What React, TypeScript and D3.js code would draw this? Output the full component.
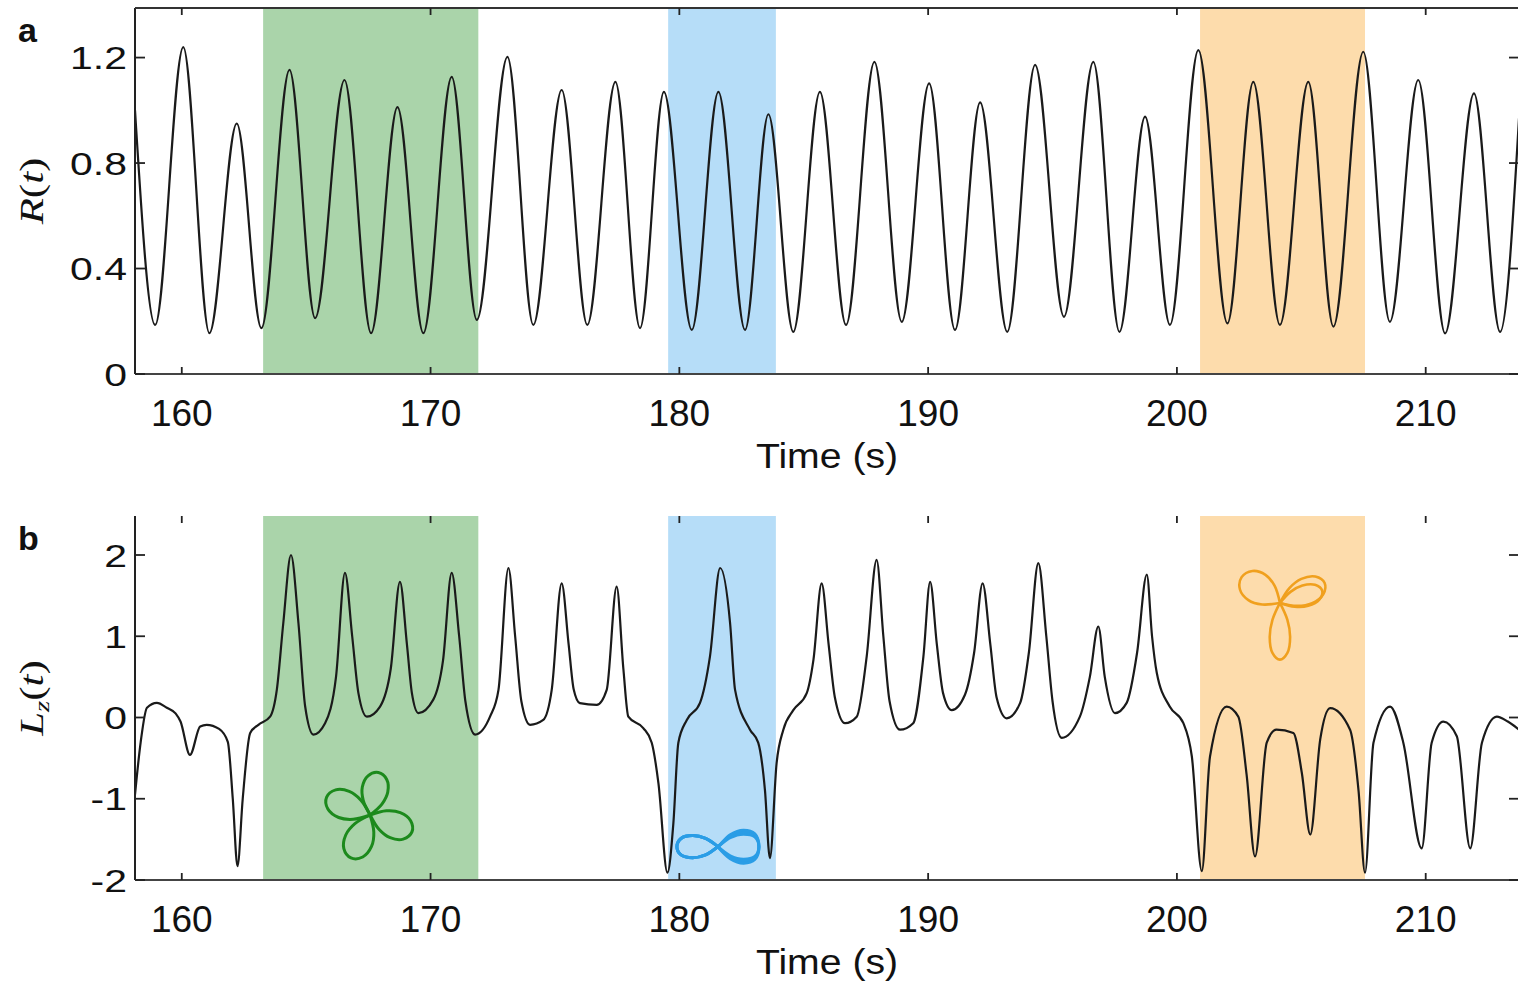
import React from 'react';
import * as d3 from 'd3';

// ---------- data ----------
const xTicks = [160, 170, 180, 190, 200, 210];
const rTicks = [0, 0.4, 0.8, 1.2];
const rTickLabels = ['0', '0.4', '0.8', '1.2'];
const lzTicks = [-2, -1, 0, 1, 2];
const lzTickLabels = ['-2', '-1', '0', '1', '2'];

const regionStart = [163.27, 179.55, 200.93];
const regionEnd = [171.92, 183.88, 207.56];

const rTime = [158.12, 158.93, 160.06, 161.11, 162.21, 163.2, 164.33, 165.36, 166.54, 167.61, 168.67, 169.71, 170.85, 171.86, 173.09, 174.13, 175.27, 176.3, 177.43, 178.42, 179.38, 180.5, 181.57, 182.64, 183.58, 184.58, 185.65, 186.7, 187.84, 188.94, 190.04, 191.08, 192.09, 193.18, 194.3, 195.46, 196.64, 197.69, 198.72, 199.72, 200.86, 202.03, 203.07, 204.14, 205.28, 206.29, 207.49, 208.56, 209.7, 210.78, 211.94, 212.99, 213.75];
const rValue = [1.0, 0.186, 1.24, 0.155, 0.95, 0.174, 1.153, 0.212, 1.115, 0.155, 1.012, 0.155, 1.127, 0.205, 1.203, 0.186, 1.077, 0.186, 1.108, 0.174, 1.07, 0.167, 1.07, 0.167, 0.985, 0.16, 1.07, 0.186, 1.184, 0.198, 1.102, 0.167, 1.03, 0.16, 1.172, 0.217, 1.184, 0.16, 0.976, 0.186, 1.228, 0.192, 1.108, 0.186, 1.108, 0.18, 1.222, 0.198, 1.115, 0.154, 1.064, 0.16, 0.97];

const lzTime = [158.12, 158.35, 158.6, 159.0, 159.4, 159.75, 159.95, 160.33, 160.74, 161.0, 161.5, 161.85, 162.05, 162.24, 162.45, 162.75, 163.08, 163.55, 163.82, 164.08, 164.39, 164.69, 164.96, 165.29, 165.76, 166.2, 166.56, 166.85, 167.1, 167.44, 167.97, 168.4, 168.77, 169.05, 169.25, 169.51, 170.11, 170.5, 170.85, 171.15, 171.4, 171.79, 172.39, 172.73, 173.13, 173.4, 173.65, 174.0, 174.53, 174.87, 175.27, 175.55, 175.75, 176.0, 176.68, 177.08, 177.48, 177.75, 177.95, 178.55, 178.89, 179.16, 179.52, 179.76, 179.96, 180.3, 180.83, 181.23, 181.64, 182.04, 182.24, 182.84, 183.17, 183.44, 183.64, 183.91, 184.18, 184.58, 185.12, 185.39, 185.72, 186.0, 186.25, 186.66, 187.13, 187.53, 187.93, 188.2, 188.45, 188.87, 189.4, 189.81, 190.08, 190.35, 190.6, 190.95, 191.48, 191.85, 192.19, 192.5, 192.75, 193.16, 193.7, 194.05, 194.43, 194.75, 195.0, 195.37, 196.1, 196.5, 196.84, 197.1, 197.51, 197.98, 198.4, 198.79, 199.0, 199.19, 199.71, 200.26, 200.6, 201.0, 201.33, 202.0, 202.47, 202.8, 203.14, 203.61, 204.0, 204.68, 205.02, 205.36, 205.76, 206.16, 206.96, 207.3, 207.56, 207.9, 208.57, 209.1, 209.84, 210.24, 210.71, 211.25, 211.79, 212.26, 212.86, 213.3, 213.75];
const lzValue = [-0.95, -0.3, 0.12, 0.18, 0.12, 0.05, -0.05, -0.46, -0.11, -0.09, -0.14, -0.3, -1.0, -1.83, -1.0, -0.19, -0.09, 0.01, 0.34, 1.16, 2.0, 1.16, 0.135, -0.21, -0.07, 0.5, 1.78, 1.0, 0.3, 0.01, 0.135, 0.6, 1.67, 0.9, 0.3, 0.054, 0.22, 0.7, 1.78, 1.0, 0.2, -0.21, 0.01, 0.34, 1.84, 1.0, 0.2, -0.09, -0.03, 0.34, 1.65, 0.9, 0.35, 0.177, 0.156, 0.34, 1.61, 0.6, 0.01, -0.13, -0.31, -0.81, -1.91, -1.3, -0.31, -0.03, 0.18, 0.75, 1.84, 1.16, 0.34, -0.15, -0.31, -0.89, -1.73, -0.56, -0.15, 0.09, 0.3, 0.71, 1.65, 0.9, 0.25, -0.07, 0.01, 0.75, 1.94, 1.0, 0.2, -0.15, -0.07, 0.75, 1.67, 0.9, 0.3, 0.09, 0.28, 0.8, 1.65, 0.9, 0.25, -0.01, 0.18, 0.8, 1.9, 1.0, 0.2, -0.25, 0.01, 0.5, 1.12, 0.5, 0.054, 0.18, 0.8, 1.76, 1.0, 0.55, 0.135, -0.07, -0.48, -1.89, -0.48, 0.135, 0.01, -0.7, -1.71, -0.31, -0.15, -0.19, -0.68, -1.44, -0.27, 0.115, -0.15, -0.9, -1.91, -0.31, 0.135, -0.31, -1.61, -0.31, -0.05, -0.23, -1.61, -0.31, 0.01, -0.05, -0.15];

// inset trajectories (local units)
const petalShapeX = [0, 0.3, 0.6, 0.88, 1, 0.88, 0.6, 0.3, 0];
const petalShapeY = [0, -0.22, -0.3, -0.22, 0, 0.22, 0.3, 0.22, 0];
const flowerAngles = [-79, 22, 114, 202];
const flowerLengths = [0.92, 0.96, 1.0, 1.0];
const flowerWidths = [1.0, 1.0, 1.0, 1.0];
const flowerCenter = [167.57, -1.2];

const trefoilAngles = [214, -24, -16, 90];
const trefoilLengths = [0.84, 0.89, 0.8, 1.03];
const trefoilWidths = [1.1, 0.9, 0.8, 0.6];
const trefoilCenter = [204.14, 1.41];

const lemniX = [0, -0.3, -0.62, -0.9, -1, -0.9, -0.62, -0.3, 0, 0.3, 0.62, 0.9, 1, 0.9, 0.62, 0.3, 0];
const lemniY = [0, 0.2, 0.27, 0.2, 0, -0.2, -0.27, -0.2, 0, 0.26, 0.36, 0.28, 0, -0.28, -0.36, -0.26, 0];
const lemniRightGain = [0.85, 1.0, 1.12];
const lemniCenter = [181.55, -1.59];

// ---------- layout ----------
const W = 1518;
const H = 987;
const left = 135;
const right = 1519;
const sans = '"Liberation Sans", Arial, Helvetica, sans-serif';
const serif = '"Liberation Serif", "Times New Roman", serif';
const regionColors = ['#aad4aa', '#b6ddf8', '#fddcac'];

const x = d3.scaleLinear().domain([158.12, 213.75]).range([left, right]);

type PanelProps = {
  id: string;
  top: number;
  bottom: number;
  domain: [number, number];
  ticks: number[];
  tickLabels: string[];
  times: number[];
  values: number[];
  letter: string;
  ylabel: React.ReactNode;
  topLine: boolean;
  children?: (y: d3.ScaleLinear<number, number>) => React.ReactNode;
};

function Panel({ id, top, bottom, domain, ticks, tickLabels, times, values, letter, ylabel, topLine, children }: PanelProps) {
  const y = d3.scaleLinear().domain(domain).range([bottom, top]);
  const line = d3
    .line<number>()
    .x((_, i) => x(times[i]))
    .y((v) => y(v))
    .curve(d3.curveMonotoneX);
  const midY = (top + bottom) / 2;
  return (
    <g>
      <defs>
        <clipPath id={id}>
          <rect x={left} y={top} width={right - left} height={bottom - top} />
        </clipPath>
      </defs>
      {regionStart.map((s, i) => (
        <rect key={i} x={x(s)} y={top} width={x(regionEnd[i]) - x(s)} height={bottom - top} fill={regionColors[i]} />
      ))}
      <g clipPath={`url(#${id})`}>
        <path d={line(values) || ''} fill="none" stroke="#1a1a1a" strokeWidth={2.2} strokeLinejoin="round" />
        {children && children(y)}
      </g>
      {/* frame */}
      <line x1={left} x2={left} y1={top} y2={bottom} stroke="#222" strokeWidth={2} />
      <line x1={left} x2={right} y1={bottom} y2={bottom} stroke="#444" strokeWidth={2} />
      {topLine && <line x1={left} x2={right} y1={top} y2={top} stroke="#333" strokeWidth={2} />}
      {/* y ticks */}
      {ticks.map((t, i) => (
        <g key={t}>
          <line x1={left} x2={left + 10} y1={y(t)} y2={y(t)} stroke="#222" strokeWidth={1.8} />
          <line x1={right - 10} x2={right} y1={y(t)} y2={y(t)} stroke="#222" strokeWidth={1.8} />
          <text
            transform={`translate(127,${y(t)}) scale(1.28,1)`}
            textAnchor="end"
            dy="0.36em"
            fontFamily={sans}
            fontSize={32}
            fill="#111"
          >
            {tickLabels[i]}
          </text>
        </g>
      ))}
      {/* x ticks */}
      {xTicks.map((t) => (
        <g key={t}>
          <line x1={x(t)} x2={x(t)} y1={bottom} y2={bottom - 7} stroke="#222" strokeWidth={1.8} />
          <line x1={x(t)} x2={x(t)} y1={top} y2={top + 7} stroke="#222" strokeWidth={1.8} />
          <text x={x(t)} y={bottom + 52} textAnchor="middle" fontFamily={sans} fontSize={37} fill="#111">
            {t}
          </text>
        </g>
      ))}
      <text
        transform={`translate(${(left + right) / 2},${bottom + 94}) scale(1.12,1)`}
        textAnchor="middle"
        fontFamily={sans}
        fontSize={35}
        fill="#111"
      >
        Time (s)
      </text>
      <text x={18} y={top + 34} fontFamily={sans} fontWeight="bold" fontSize={34} fill="#111">
        {letter}
      </text>
      <text
        transform={`translate(43,${midY}) rotate(-90) scale(1.3,1)`}
        textAnchor="middle"
        fontFamily={serif}
        fontSize={33}
        fill="#111"
      >
        {ylabel}
      </text>
    </g>
  );
}

const curveLine = d3
  .line<[number, number]>()
  .x((d) => d[0])
  .y((d) => d[1])
  .curve(d3.curveCatmullRom.alpha(0.5));

function petals(
  cx: number,
  cy: number,
  unit: number,
  angles: number[],
  lengths: number[],
  widths: number[],
  color: string,
  sw: number
) {
  return angles.map((a, k) => {
    const r = (a * Math.PI) / 180;
    const c = Math.cos(r);
    const s = Math.sin(r);
    const pts: [number, number][] = petalShapeX.map((px, i) => {
      const lx = px * lengths[k] * unit;
      const ly = petalShapeY[i] * widths[k] * lengths[k] * unit;
      return [cx + lx * c - ly * s, cy + lx * s + ly * c];
    });
    return <path key={k} d={curveLine(pts) || ''} fill="none" stroke={color} strokeWidth={sw} strokeLinejoin="round" />;
  });
}

export default function App() {
  const lzLabel = (
    <>
      <tspan fontStyle="italic">L</tspan>
      <tspan fontStyle="italic" fontSize={22} dy={6}>z</tspan>
      <tspan dy={-6}>(</tspan>
      <tspan fontStyle="italic">t</tspan>
      <tspan>)</tspan>
    </>
  );
  const rLabel = (
    <>
      <tspan fontStyle="italic">R</tspan>
      <tspan>(</tspan>
      <tspan fontStyle="italic">t</tspan>
      <tspan>)</tspan>
    </>
  );
  return (
    <svg width={W} height={H} style={{ position: 'absolute', left: 0, top: 0, background: '#fff' }}>
      <rect x={0} y={0} width={W} height={H} fill="#fff" />
      <Panel
        id="clipA"
        top={8}
        bottom={374}
        domain={[0, 1.388]}
        ticks={rTicks}
        tickLabels={rTickLabels}
        times={rTime}
        values={rValue}
        letter="a"
        ylabel={rLabel}
        topLine={true}
      />
      <Panel
        id="clipB"
        top={516}
        bottom={880}
        domain={[-2, 2.48]}
        ticks={lzTicks}
        tickLabels={lzTickLabels}
        times={lzTime}
        values={lzValue}
        letter="b"
        ylabel={lzLabel}
        topLine={false}
      >
        {(y) => (
          <g>
            {petals(x(flowerCenter[0]), y(flowerCenter[1]), 47, flowerAngles, flowerLengths, flowerWidths, '#1c8a1c', 3)}
            {petals(x(trefoilCenter[0]), y(trefoilCenter[1]), 55, trefoilAngles, trefoilLengths, trefoilWidths, '#f0a01e', 2.6)}
            {lemniRightGain.map((g, k) => {
              const cx = x(lemniCenter[0]);
              const cy = y(lemniCenter[1]);
              const pts: [number, number][] = lemniX.map((lx, i) => [
                cx + lx * 41,
                cy - lemniY[i] * (lx > 0 ? g : 1) * 41,
              ]);
              return <path key={k} d={curveLine(pts) || ''} fill="none" stroke="#2a9de6" strokeWidth={3} strokeLinejoin="round" />;
            })}
          </g>
        )}
      </Panel>
    </svg>
  );
}
